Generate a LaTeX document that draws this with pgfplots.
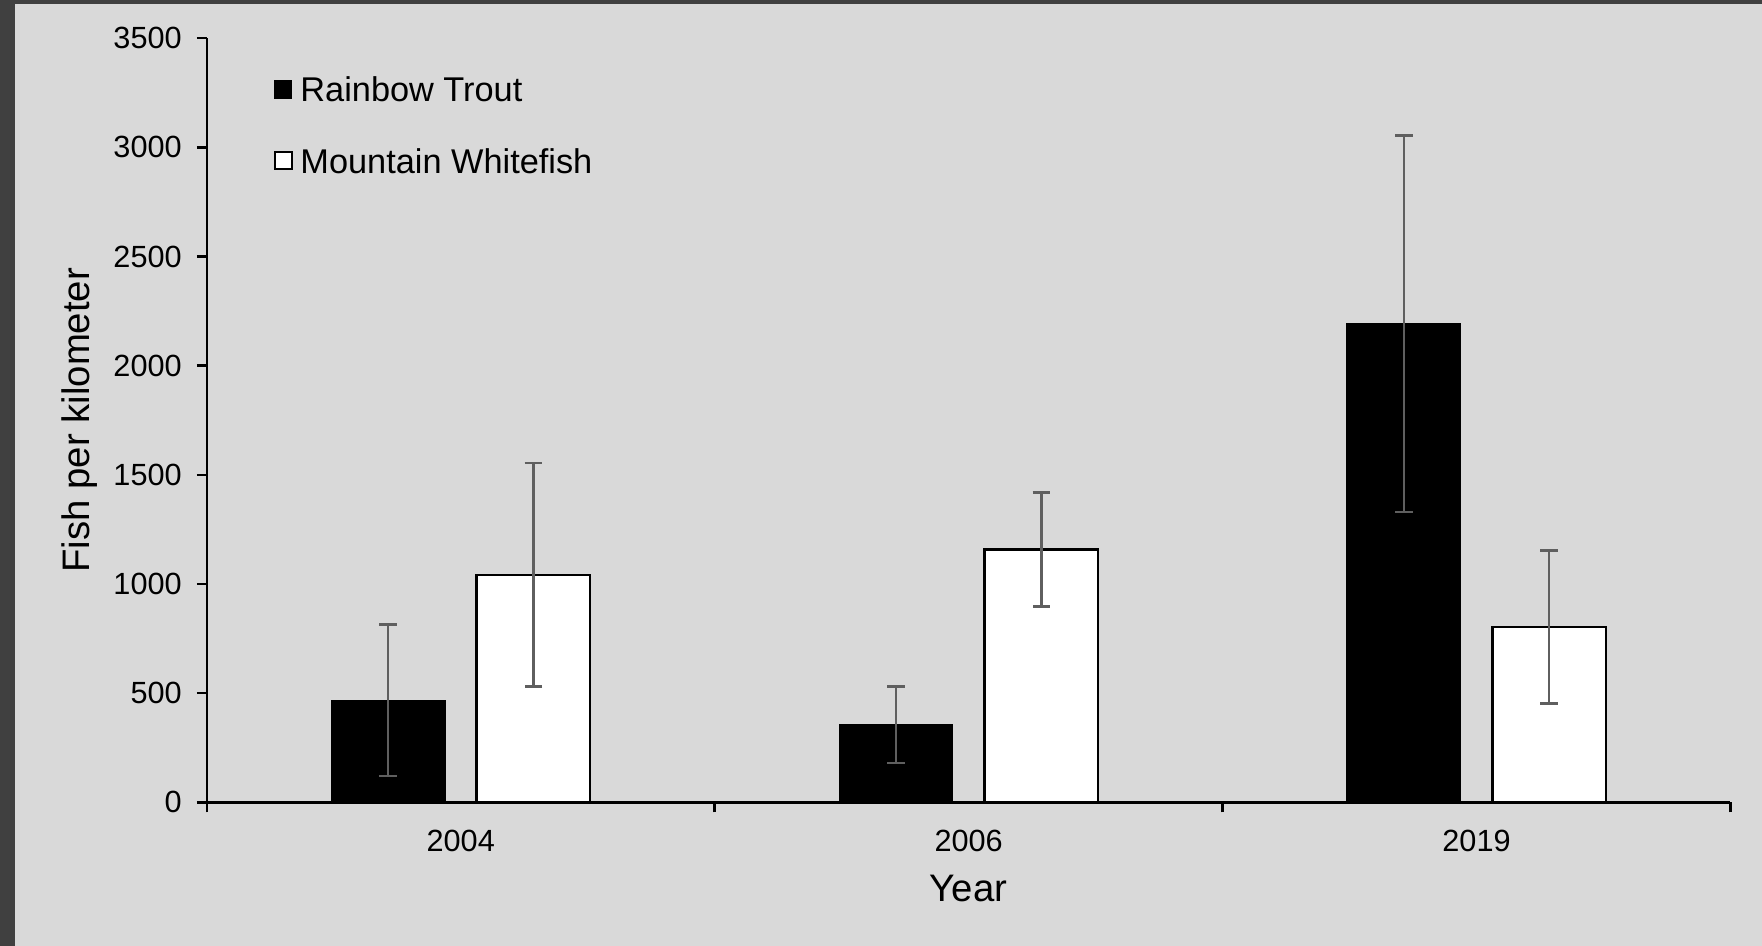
\documentclass[border=0pt]{standalone}
\usepackage{pgfplots}
\pgfplotsset{compat=1.18}
\usepackage{fontspec}
\setmainfont{Liberation Sans}
\definecolor{bg}{HTML}{D9D9D9}
\definecolor{frame}{HTML}{404040}
\definecolor{errc}{HTML}{5F5F5F}
\begin{document}
\begin{tikzpicture}
\useasboundingbox (0,0) rectangle (528.6pt,283.8pt);
\fill[bg] (0,0) rectangle (528.6pt,283.8pt);
\fill[frame] (0,0) rectangle (4.5pt,283.8pt);
\fill[frame] (0,282.6pt) rectangle (528.6pt,283.8pt);
\begin{axis}[
  at={(62.04pt,43.11pt)}, anchor=south west,
  scale only axis, width=457.1pt, height=229.23pt,
  ybar, bar width=0.223,
  xmin=-0.5, xmax=2.5, ymin=0, ymax=3500,
  axis x line*=bottom, axis y line*=left,
  axis line style={-, line width=0.75pt, black},
  xtick={-0.5,0.5,1.5,2.5},
  x tick label as interval,
  xticklabels={2004,2006,2019},
  ytick={0,500,...,3500},
  tick align=outside, major tick length=3pt,
  tick style={black, line width=0.75pt},
  /pgf/number format/assume math mode=true,
  /pgf/number format/1000 sep={},
  tick label style={font=\fontsize{9.2}{11}\selectfont},
  xticklabel style={yshift=-1.7pt},
  yticklabel style={xshift=-1pt},
  xlabel={Year}, ylabel={Fish per kilometer},
  label style={font=\fontsize{11.5}{13}\selectfont},
  xlabel style={at={(axis description cs:0.5,-0.1134)}, anchor=center},
  ylabel style={at={(axis description cs:-0.0835,0.5)}, anchor=center},
  legend style={at={(axis description cs:0.0435,0.95)}, anchor=north west,
    draw=none, fill=none, inner sep=0pt, row sep=14pt,
    font=\fontsize{10.3}{12}\selectfont,
    nodes={inner sep=0pt, text height=7.4pt, text depth=0pt},
    column sep=2.2pt},
  legend cell align=left,
  error bars/y dir=both, error bars/y explicit,
  error bars/error bar style={errc, line width=0.8pt},
  error bars/error mark options={rotate=90, mark size=2.6pt, errc, line width=0.8pt},
]
\addplot[fill=black, draw=black, line width=0.5pt, bar shift=-0.143,
  legend image code/.code={\fill[black] (0pt,-2.5pt) rectangle (5pt,2.5pt);}]
  coordinates {(0,467) +- (0,347) (1,355) +- (0,175) (2,2192) +- (0,862)};
\addlegendentry{Rainbow Trout}
\addplot[fill=white, draw=black, line width=0.75pt, bar shift=0.143,
  legend image code/.code={\draw[black, fill=white, line width=0.6pt] (0pt,-2.6pt) rectangle (5.2pt,2.6pt);}]
  coordinates {(0,1042) +- (0,512) (1,1158) +- (0,262) (2,802) +- (0,350)};
\addlegendentry{Mountain Whitefish}
\end{axis}
\end{tikzpicture}
\end{document}
